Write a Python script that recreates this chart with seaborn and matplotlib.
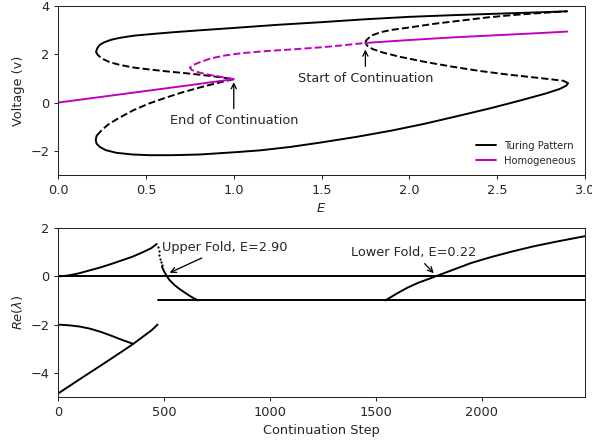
import matplotlib
matplotlib.use("Agg")
import matplotlib.pyplot as plt
from matplotlib.lines import Line2D
import pandas as pd
import seaborn as sns

# ---------------- Bifurcation diagram (voltage vs E) ----------------
# Turing pattern: maximum of v along the branch
turing_max_stable_E = [0.215, 0.222, 0.235, 0.26, 0.30, 0.35, 0.43, 0.52, 0.65, 0.80,
                       1.0, 1.25, 1.5, 1.75, 2.0, 2.25, 2.5, 2.75, 2.9]
turing_max_stable_v = [2.10, 2.25, 2.38, 2.49, 2.60, 2.68, 2.77, 2.83, 2.91, 2.99,
                       3.09, 3.22, 3.33, 3.45, 3.55, 3.62, 3.68, 3.74, 3.78]
turing_max_unstable_left_E = [0.215, 0.225, 0.25, 0.29, 0.35, 0.43, 0.52, 0.62, 0.72, 0.81, 0.90, 1.0]
turing_max_unstable_left_v = [2.10, 1.97, 1.82, 1.68, 1.56, 1.45, 1.37, 1.29, 1.22, 1.15, 1.07, 0.97]
turing_max_unstable_right_E = [1.75, 1.755, 1.77, 1.79, 1.84, 1.90, 2.0, 2.15, 2.3, 2.45, 2.6, 2.75, 2.9]
turing_max_unstable_right_v = [2.48, 2.58, 2.68, 2.79, 2.92, 3.01, 3.11, 3.27, 3.40, 3.53, 3.63, 3.71, 3.78]

# Turing pattern: minimum of v along the branch
turing_min_stable_E = [0.218, 0.213, 0.218, 0.237, 0.27, 0.33, 0.42, 0.52, 0.65, 0.81, 1.0,
                       1.15, 1.32, 1.5, 1.7, 1.9, 2.08, 2.27, 2.46, 2.63, 2.78, 2.86, 2.895, 2.905]
turing_min_stable_v = [-1.38, -1.55, -1.70, -1.84, -1.97, -2.08, -2.15, -2.18, -2.18, -2.15, -2.06,
                       -1.98, -1.84, -1.65, -1.42, -1.16, -0.89, -0.57, -0.24, 0.08, 0.38, 0.57, 0.70, 0.80]
turing_min_unstable_left_E = [1.0, 0.90, 0.81, 0.71, 0.62, 0.52, 0.43, 0.35, 0.29, 0.25, 0.218]
turing_min_unstable_left_v = [0.97, 0.80, 0.63, 0.43, 0.22, -0.03, -0.31, -0.62, -0.88, -1.12, -1.38]
turing_min_unstable_right_E = [2.905, 2.88, 2.80, 2.70, 2.55, 2.40, 2.25, 2.10, 1.95, 1.85, 1.79, 1.76, 1.75]
turing_min_unstable_right_v = [0.80, 0.90, 0.97, 1.05, 1.17, 1.31, 1.48, 1.67, 1.89, 2.07, 2.22, 2.36, 2.48]

# Homogeneous steady state
homog_stable_low_E = [0.0, 0.25, 0.5, 0.75, 1.0]
homog_stable_low_v = [0.0, 0.24, 0.48, 0.72, 0.97]
homog_unstable_E = [1.0, 0.93, 0.86, 0.80, 0.76, 0.75, 0.77, 0.81, 0.87, 0.95, 1.05,
                    1.2, 1.35, 1.5, 1.62, 1.75]
homog_unstable_v = [0.97, 1.06, 1.15, 1.25, 1.35, 1.45, 1.56, 1.68, 1.83, 1.95, 2.05,
                    2.14, 2.21, 2.29, 2.37, 2.47]
homog_stable_high_E = [1.75, 2.0, 2.25, 2.5, 2.75, 2.9]
homog_stable_high_v = [2.47, 2.59, 2.70, 2.79, 2.88, 2.94]

# ---------------- Eigenvalues along the continuation ----------------
n_steps = 2487
zero_steps = [0, n_steps]
zero_eig = [0.0, 0.0]

growing_steps = [0, 25, 50, 75, 100, 150, 200, 250, 300, 350, 400, 440, 465]
growing_eig = [0.0, 0.01, 0.04, 0.08, 0.13, 0.25, 0.37, 0.51, 0.66, 0.81, 1.00, 1.17, 1.34]

drop_steps = [472, 475, 478, 481, 485, 489]
drop_eig = [1.22, 1.05, 0.88, 0.72, 0.58, 0.46]

decay_steps = [490, 495, 500, 510, 525, 545, 570, 600, 630, 660]
decay_eig = [0.40, 0.29, 0.20, 0.04, -0.15, -0.33, -0.51, -0.69, -0.86, -1.0]

minus_one_steps = [469, n_steps]
minus_one_eig = [-1.0, -1.0]

rising_steps = [1545, 1600, 1650, 1700, 1750, 1783, 1850, 1950, 2050, 2150, 2250, 2350, 2487]
rising_eig = [-1.0, -0.71, -0.47, -0.27, -0.11, 0.0, 0.22, 0.55, 0.81, 1.04, 1.25, 1.43, 1.66]

neg_a_steps = [0, 50, 100, 150, 200, 250, 300, 354]
neg_a_eig = [-2.0, -2.03, -2.08, -2.17, -2.30, -2.46, -2.63, -2.80]

neg_b_steps = [0, 100, 200, 300, 354, 400, 440, 469]
neg_b_eig = [-4.85, -4.27, -3.70, -3.12, -2.80, -2.50, -2.24, -2.0]

sns.set_style("ticks")
plt.rcParams["font.size"] = 10

DPI = 92.5
fig = plt.figure(figsize=(592 / DPI, 440 / DPI), dpi=DPI)
ax1 = fig.add_axes([0.0985, 0.6023, 0.8892, 0.3841])
ax2 = fig.add_axes([0.0985, 0.0977, 0.8892, 0.3841])

BLACK = "k"
MAG = "m"
LW = 1.5


def curve(ax, x, y, color, ls="-", lw=LW):
    df = pd.DataFrame({"x": x, "y": y})
    sns.lineplot(data=df, x="x", y="y", sort=False, estimator=None,
                 color=color, linestyle=ls, linewidth=lw, ax=ax)


# Top panel
curve(ax1, turing_max_stable_E, turing_max_stable_v, BLACK)
curve(ax1, turing_max_unstable_left_E, turing_max_unstable_left_v, BLACK, "--")
curve(ax1, turing_max_unstable_right_E, turing_max_unstable_right_v, BLACK, "--")
curve(ax1, turing_min_stable_E, turing_min_stable_v, BLACK)
curve(ax1, turing_min_unstable_left_E, turing_min_unstable_left_v, BLACK, "--")
curve(ax1, turing_min_unstable_right_E, turing_min_unstable_right_v, BLACK, "--")
curve(ax1, homog_stable_low_E, homog_stable_low_v, MAG)
curve(ax1, homog_unstable_E, homog_unstable_v, MAG, "--")
curve(ax1, homog_stable_high_E, homog_stable_high_v, MAG)

ax1.set_xlim(0, 3)
ax1.set_ylim(-3, 4)
ax1.set_xticks([0.0, 0.5, 1.0, 1.5, 2.0, 2.5, 3.0])
ax1.set_yticks([-2, 0, 2, 4])
ax1.set_xlabel("$E$")
ax1.set_ylabel("Voltage (v)")

ax1.annotate("End of Continuation", xy=(1.0, 0.95), xytext=(1.0, -0.75),
             ha="center", va="center", fontsize=10,
             arrowprops=dict(arrowstyle="->", color="k", lw=1.0))
ax1.annotate("Start of Continuation", xy=(1.75, 2.3), xytext=(1.75, 1.0),
             ha="center", va="center", fontsize=10,
             arrowprops=dict(arrowstyle="->", color="k", lw=1.0))

handles = [Line2D([], [], color=BLACK, lw=LW, label="Turing Pattern"),
           Line2D([], [], color=MAG, lw=LW, label="Homogeneous")]
ax1.legend(handles=handles, loc="lower right", frameon=False, fontsize=7.8)

# Bottom panel
curve(ax2, zero_steps, zero_eig, BLACK)
curve(ax2, growing_steps, growing_eig, BLACK)
sns.scatterplot(x=drop_steps, y=drop_eig, color=BLACK, s=3, linewidth=0, ax=ax2)
curve(ax2, decay_steps, decay_eig, BLACK)
curve(ax2, minus_one_steps, minus_one_eig, BLACK)
curve(ax2, rising_steps, rising_eig, BLACK)
curve(ax2, neg_a_steps, neg_a_eig, BLACK)
curve(ax2, neg_b_steps, neg_b_eig, BLACK)

ax2.set_xlim(0, n_steps)
ax2.set_ylim(-5, 2)
ax2.set_xticks([0, 500, 1000, 1500, 2000])
ax2.set_yticks([-4, -2, 0, 2])
ax2.set_xlabel("Continuation Step")
ax2.set_ylabel(r"$Re(\lambda)$")

ax2.annotate("Upper Fold, E=2.90", xy=(515, 0.1), xytext=(490, 1.2),
             ha="left", va="center", fontsize=10,
             arrowprops=dict(arrowstyle="->", color="k", lw=1.0))
ax2.annotate("Lower Fold, E=0.22", xy=(1782, 0.05), xytext=(1680, 1.0),
             ha="center", va="center", fontsize=10,
             arrowprops=dict(arrowstyle="->", color="k", lw=1.0))

fig.savefig("out.png", dpi=DPI)
